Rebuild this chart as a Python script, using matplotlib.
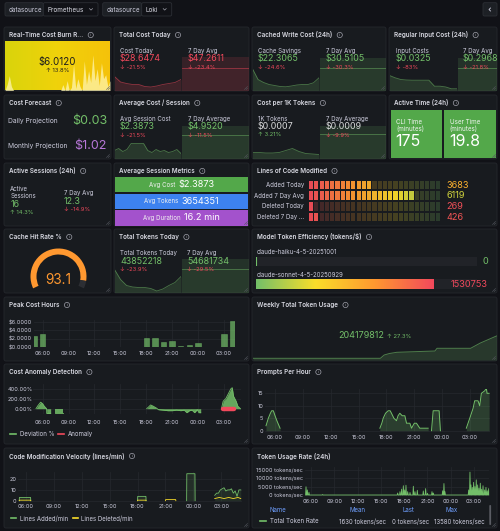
import numpy as np
import matplotlib
matplotlib.use('Agg')
import matplotlib.pyplot as plt
from matplotlib.patches import Rectangle, FancyBboxPatch, Wedge, Circle
from matplotlib.colors import LinearSegmentedColormap

plt.rcParams['font.family'] = ['Inter', 'DejaVu Sans']
nan = np.nan

# ---------------------------------------------------------------- data
burn_value, burn_change = '$6.0120', '↑ 13.8%'
burn_spark = [0, 6, 15, 4, 0, 0, 0, 0, 0, 0, 0, 0, 0, 0, 0, 0, 0, 0, 0, 0,
              0, 0, 0, 0, 0, 0, 0, 6, 0, 10, 0, 3, 27, 2, 12, 4, 0, 30, 6, 20,
              8, 36, 10, 22, 5, 28, 12, 16, 4, 10]

cost_labels = ['Cost Today', '7 Day Avg']
cost_values = ['$28.6474', '$47.2611']
cost_changes = ['↓ -21.5%', '↓ -23.4%']
cost_spark = [14, 8.5, 7, 6, 6, 4, 3.5, 4.5, 6, 7, 8, 11]
cost_avg7 = [34, 23]

cache_labels = ['Cache Savings', '7 Day Avg']
cache_values = ['$22.3065', '$30.5105']
cache_changes = ['↓ -24.6%', '↓ -30.3%']
cache_spark = [21.7, 11, 8, 6, 5, 4, 3.7, 4.5, 5.5, 6, 6, 7.7, 12.7]
cache_avg7 = [32.7, 22.7]

input_labels = ['Input Costs', '7 Day Avg']
input_values = ['$0.0325', '$0.2968']
input_changes = ['↓ -83%', '↓ -21.8%']
input_spark = [15, 12.7, 11, 10.5, 10.3, 10.3, 10.3, 10.3, 4.3, 4.3, 3.5, 1.7, 1.7]
input_avg7 = [32.7, 22.7]

forecast_labels = ['Daily Projection', 'Monthly Projection']
forecast_values = ['$0.03', '$1.02']

session_labels = ['Avg Session Cost', '7 Day Average']
session_values = ['$2.3873', '$4.9520']
session_changes = ['↓ -21.5%', '↓ -11.5%']
session_spark = [8, 10, 7, 9, 15, 15, 15, 15, 8, 6, 9, 7, 8, 6, 7, 9, 5]
session_avg7 = [33, 24]

per1k_labels = ['1K Tokens', '7 Day Average']
per1k_values = ['$0.0007', '$0.0009']
per1k_changes = ['↑ 3.21%', '↓ -9.9%']
per1k_spark = [6, 6, 5.5, 5.5, 6, 8, 10, 7, 5, 4.5, 4]
per1k_avg7 = [33, 24.7]

active_time_labels = ['CLI Time\n(minutes)', 'User Time\n(minutes)']
active_time_values = ['175', '19.8']

sessions_labels = ['Active\nSessions', '7 Day Avg']
sessions_values = ['16', '12.3']
sessions_changes = ['↑ 14.3%', '↓ -14.9%']

metric_labels = ['Avg Cost', 'Avg Tokens', 'Avg Duration']
metric_values = ['$2.3873', '3654351', '16.2 min']

loc_labels = ['Added Today', 'Added 7 Day Avg', 'Deleted Today', 'Deleted 7 Day ...']
loc_values = [3683, 6119, 269, 426]
loc_max = 8000

cache_hit = 93.1

tokens_labels = ['Total Tokens Today', '7 Day Avg']
tokens_values = ['43852218', '54681734']
tokens_changes = ['↓ -23.9%', '↓ -29.5%']
tokens_spark = [23, 13, 7, 5.5, 5, 5, 4, 1.5, 3.5, 7, 10, 16]
tokens_avg7 = [33, 23]

model_names = ['claude-haiku-4-5-20251001', 'claude-sonnet-4-5-20250929']
model_eff = [0, 1530753]
model_max = 1906000

peak_hours = [5, 6, 8, 18, 19, 20, 21, 22, 23, 24, 27, 28]
peak_cost = [2.6, 3.25, 0.1, 2.1, 2.25, 1.3, 1.5, 0.25, 0.5, 1.0, 3.25, 6.3]

weekly_total, weekly_change = '204179812', '↑ 27.3%'
weekly_day = [0, 3.64, 3.75, 3.9, 4.11, 4.6, 5.2, 5.26, 6.22, 6.5, 6.96]
weekly_spark = [1.7, 1.7, 5, 6.5, 7.7, 8.3, 9, 11.7, 11.7, 17, 24]

dev_t = [5.23, 5.45, 5.77, 6.0, 6.19, 6.46, 6.47, 6.93, nan, 7.43, 8.39, nan,
         18.05, 18.3, 18.5, 18.8, 19.2, 19.4, 20.0, 20.5, 21.0, 21.5, 22.0, 22.4,
         22.7, 23.0, 23.3, 23.6, 23.9, 24.1, 24.3, nan,
         26.7, 26.9, 27.2, 27.5, 27.8, 27.95, 28.1, 28.4, 28.6, 28.9]
dev_v = [0, 60, 130, 100, 50, 0, -95, -95, nan, -95, -95, nan,
         0, 40, 75, 50, 10, -20, -30, -40, -40, -30, -40, -30,
         -80, -40, -30, -80, -20, -80, -80, nan,
         0, 150, 200, 300, 400, 420, 250, 150, 50, 0]
anom_t = [26.9, 27.3, 27.7, 28.15]
anom_v = [-3, -3, -3, -3]

pph_t = [5.03, 5.28, 5.5, 5.64, 5.82, 6.0, 6.2, 6.54, nan,
         17.29, 17.5, 17.65, 17.9, 18.19, 18.4, 18.54, 18.8, 19.08, 19.25, 19.44,
         19.7, 19.98, 20.16, 20.52, 20.7, 21.0, 21.23, 21.59, 21.77, 22.49, nan,
         22.85, 23.03, 23.67, 23.81, nan,
         26.6, 26.97, 27.33, 27.5, 27.86, 28.04, 28.22, 28.58, 28.76, 28.83, 29.05]
pph_v = [2, 5, 7, 8, 8, 6, 4, 1, nan,
         1, 3, 5, 7, 8, 8, 7, 5, 4, 6, 7,
         6, 6, 3, 3, 1, 3, 3, 1, 1, 1, nan,
         0, 8, 8, 0, nan,
         1, 5, 9, 12, 12, 10, 15, 16, 17, 15, 15]

added_t = [5.28, 5.3, 6.5, 6.52, nan, 18.0, 18.02, 18.9, 18.92, nan,
           23.28, 23.3, 24.17, 24.19, nan,
           26.3, 26.5, 26.7, 26.9, 27.1, 27.3, 27.5, 27.7, 27.9, 28.1, 28.3, 28.5, 28.7, 28.9, 29.1]
added_v = [0, 3, 3, 0, nan, 0, 4, 4, 0, nan,
           0, 25, 25, 0, nan,
           5, 7, 7, 10, 11, 12, 9, 10, 10, 11, 7, 9, 4, 10, 10]
deleted_t = [5.28, 5.3, 6.5, 6.52, nan, 18.0, 18.02, 18.9, 18.92, nan,
             21.0, 21.02, 22.1, 22.12, nan,
             26.3, 26.8, 27.3, 27.8, 28.3, 28.8, 29.1]
deleted_v = [0, 0.5, 0.5, 0, nan, 0, 0.5, 0.5, 0, nan,
             0, 1, 1, 0, nan,
             2, 3, 2, 3, 2, 3, 2]

rate_t = [5.36, 5.53, 5.74, 7.5, 17.16, 17.46, 17.67, 17.89, 18.06, 18.23, 18.45,
          18.75, 19.18, 19.39, 19.69, 20.46, 20.76, 21.0, 21.58, 21.75, 22.95,
          23.12, 23.25, 26.3, 26.47, 26.6, 26.77, 26.94, 27.11, 27.28, 27.46,
          27.63, 27.8, 27.97, 28.15, 28.36, 28.53, 28.7, 28.88]
rate_v = [4900, 3000, 1600, 300, 1200, 2000, 3500, 5500, 3000, 5800, 2000,
          1500, 5200, 2000, 2800, 2400, 3800, 1000, 2000, 1200, 2500,
          6800, 2000, 3000, 13580, 6000, 4500, 7500, 5000, 9000, 6000,
          4000, 7000, 3500, 5500, 3000, 4500, 2500, 3800]
rate_legend = ['Total Token Rate', '1630 tokens/sec', '0 tokens/sec', '13580 tokens/sec']

HOURS = [6, 9, 12, 15, 18, 21, 24, 27]
HOUR_LABELS = ['06:00', '09:00', '12:00', '15:00', '18:00', '21:00', '00:00', '03:00']

# ---------------------------------------------------------------- style
W, H = 500, 531
BG = '#111217'; PANEL = '#181b1f'; BORDER = '#25282d'; TXT = '#ccccdc'
GRID = '#26292e'
GREEN = '#73bf69'; RED = '#f2495c'; PURPLE = '#b877d9'; ORANGE = '#ff9830'
YELLOW = '#fade2a'; WHITE = '#d8d9da'
TITLE_FS = 4.5; LABEL_FS = 4.4; VALUE_FS = 6.4; CHANGE_FS = 4.2; TICK_FS = 4.0

fig = plt.figure(figsize=(5, 5.31), dpi=100, facecolor=BG)
bg = fig.add_axes([0, 0, 1, 1]); bg.set_xlim(0, W); bg.set_ylim(H, 0); bg.axis('off')
bg.set_zorder(-10)
fg = fig.add_axes([0, 0, 1, 1]); fg.set_xlim(0, W); fg.set_ylim(H, 0); fg.axis('off')
fg.patch.set_alpha(0); fg.set_zorder(10)


def pax(x0, y0, x1, y1):
    a = fig.add_axes([x0 / W, 1 - y1 / H, (x1 - x0) / W, (y1 - y0) / H])
    a.set_facecolor('none')
    return a


def txt(x, y, s, size, color=TXT, ha='left', va='center', weight='normal', **kw):
    return fg.text(x, y, s, fontsize=size, color=color, ha=ha, va=va,
                   fontweight=weight, **kw)


titles = []


def panel(x0, y0, x1, y1, title, icon=True):
    bg.add_patch(FancyBboxPatch((x0, y0), x1 - x0, y1 - y0,
                                boxstyle='round,pad=0,rounding_size=2',
                                fc=PANEL, ec=BORDER, lw=0.6))
    t = txt(x0 + 5, y0 + 8, title, TITLE_FS, color='#d8d9e2', weight='semibold')
    if icon:
        titles.append(t)
    # resize handle
    fg.plot([x1 - 4.5, x1 - 1.5], [y1 - 1.5, y1 - 4.5], color='#55585f', lw=0.4)
    fg.plot([x1 - 2.8, x1 - 1.5], [y1 - 1.5, y1 - 2.8], color='#55585f', lw=0.4)


def split(t, v):
    t = np.asarray(t, float); v = np.asarray(v, float)
    segs, cur = [], []
    for a, b in zip(t, v):
        if np.isnan(b):
            if cur:
                segs.append(cur); cur = []
        else:
            cur.append((a, b))
    if cur:
        segs.append(cur)
    return [(np.array([p[0] for p in s]), np.array([p[1] for p in s])) for s in segs]


def spark(x0, x1, ybot, vals, color, h=36):
    a = pax(x0, ybot - h, x1, ybot)
    xs = np.arange(len(vals))
    a.fill_between(xs, vals, 0, color=color, alpha=0.18, lw=0)
    a.plot(xs, vals, color=color, alpha=0.55, lw=0.6)
    a.set_xlim(0, len(vals) - 1); a.set_ylim(0, h); a.axis('off')


def spark7(x0, x1, ybot, pair, color, h=36):
    a = pax(x0, ybot - h, x1, ybot)
    a.fill_between([0, 1], [pair[0]] * 2, 0, color=color, alpha=0.14, lw=0)
    a.fill_between([0, 1], [pair[1]] * 2, 0, color=color, alpha=0.06, lw=0)
    a.plot([0, 1], [pair[1]] * 2, color=color, alpha=0.5, lw=0.6)
    a.set_xlim(0, 1); a.set_ylim(0, h); a.axis('off')


def stat_col(x, ytop, label, value, change, vcol, ccol):
    txt(x, ytop + 23.7, label, LABEL_FS)
    txt(x, ytop + 32, value, VALUE_FS, color=vcol)
    txt(x, ytop + 40, change, CHANGE_FS, color=ccol)


def ts_ax(rect, xlim, ylim, yticks, ylabels, xpad, ypad):
    a = pax(*rect)
    a.set_xlim(*xlim); a.set_ylim(*ylim)
    a.set_xticks(HOURS, HOUR_LABELS)
    a.set_yticks(yticks, ylabels)
    a.tick_params(axis='x', length=0, labelsize=TICK_FS, labelcolor=TXT, pad=xpad)
    a.tick_params(axis='y', length=0, labelsize=TICK_FS, labelcolor=TXT, pad=ypad)
    a.grid(True, color=GRID, lw=0.5)
    a.set_axisbelow(True)
    for s in a.spines.values():
        s.set_visible(False)
    return a


def chg_color(c):
    return GREEN if c.startswith('↑') else RED


# ---------------------------------------------------------------- top bar
for (x0, x1, xs, name) in [(5, 98, 43.3, 'Prometheus'), (102.7, 171.7, 141.7, 'Loki')]:
    bg.add_patch(FancyBboxPatch((x0, 2.7), xs - x0, 13.3, boxstyle='round,pad=0,rounding_size=1.5',
                                fc='#1d2025', ec='#2c2f35', lw=0.6))
    bg.add_patch(FancyBboxPatch((xs, 2.7), x1 - xs, 13.3, boxstyle='round,pad=0,rounding_size=1.5',
                                fc=BG, ec='#2c2f35', lw=0.6))
    txt(x0 + 4, 9.5, 'datasource', 4.5)
    txt(xs + 4, 9.5, name, 4.6, color='#d8d9e2')
    fg.plot([x1 - 8.5, x1 - 7, x1 - 5.5], [8.6, 10.1, 8.6], color='#9fa0aa', lw=0.5)
bg.add_patch(FancyBboxPatch((483, 2.7), 14, 13.3, boxstyle='round,pad=0,rounding_size=1.5',
                            fc='#1d2025', ec='#2c2f35', lw=0.6))
fg.plot([490.5, 489, 490.5], [8, 9.5, 11], color='#ccccdc', lw=0.6)

# ---------------------------------------------------------------- row 1
panel(4, 27, 111, 91, 'Real-Time Cost Burn R...')
ya = pax(5, 41, 110, 90.5)
grad = np.linspace(0, 1, 200)[None, :]
ya.imshow(grad, aspect='auto', extent=(0, 1, 0, 1),
          cmap=LinearSegmentedColormap.from_list('y', ['#d9d40c', '#f0d20a', '#f5c20a']))
bx = np.linspace(0, 1, len(burn_spark))
ya.fill_between(bx, np.array(burn_spark) / 50.0, 0, color='#fff5b0', alpha=0.75, lw=0)
ya.set_xlim(0, 1); ya.set_ylim(0, 1); ya.axis('off')
txt(57.5, 61.5, burn_value, 7.0, color='#1d1d1d', ha='center')
txt(57.5, 71, burn_change, 4.2, color='#1d1d1d', ha='center')

panel(114, 27, 249, 91, 'Total Cost Today')
spark(114.5, 181, 90.5, cost_spark, RED)
spark7(182, 248.5, 90.5, cost_avg7, RED)
for i, x in enumerate([120, 188]):
    stat_col(x, 27, cost_labels[i], cost_values[i], cost_changes[i], RED, chg_color(cost_changes[i]))

panel(252, 27, 386, 91, 'Cached Write Cost (24h)')
spark(252.5, 319, 90.5, cache_spark, GREEN)
spark7(320, 385.5, 90.5, cache_avg7, GREEN)
for i, x in enumerate([258, 326]):
    stat_col(x, 27, cache_labels[i], cache_values[i], cache_changes[i], GREEN, chg_color(cache_changes[i]))

panel(389, 27, 497, 91, 'Regular Input Cost (24h)')
spark(389.5, 457, 90.5, input_spark, GREEN)
spark7(458, 496.5, 90.5, input_avg7, GREEN)
for i, x in enumerate([395.5, 463]):
    stat_col(x, 27, input_labels[i], input_values[i], input_changes[i], GREEN, chg_color(input_changes[i]))

# ---------------------------------------------------------------- row 2
panel(4, 95, 111, 159, 'Cost Forecast')
txt(8.5, 121, forecast_labels[0], 4.8)
txt(107, 121, forecast_values[0], 9.0, color=GREEN, ha='right')
txt(8.5, 146, forecast_labels[1], 4.8)
txt(107, 146, forecast_values[1], 9.0, color=PURPLE, ha='right')

panel(114, 95, 249, 159, 'Average Cost / Session')
spark(114.5, 181, 158.5, session_spark, GREEN)
spark7(182, 248.5, 158.5, session_avg7, GREEN)
for i, x in enumerate([120, 187.5]):
    stat_col(x, 95, session_labels[i], session_values[i], session_changes[i], GREEN, chg_color(session_changes[i]))

panel(252, 95, 386, 159, 'Cost per 1K Tokens')
spark(252.5, 319, 158.5, per1k_spark, GREEN)
spark7(320, 385.5, 158.5, per1k_avg7, GREEN)
for i, x in enumerate([258, 325.5]):
    stat_col(x, 95, per1k_labels[i], per1k_values[i], per1k_changes[i], WHITE, chg_color(per1k_changes[i]))

panel(389, 95, 497, 159, 'Active Time (24h)')
for i, (x0, x1) in enumerate([(390.5, 442), (444, 496)]):
    bg.add_patch(Rectangle((x0, 109.5), x1 - x0, 48.5, fc='#53a84a', ec='none'))
    txt(x0 + 5.5, 125.5, active_time_labels[i], 4.5, color='#eef3ee', linespacing=1.05)
    txt(x0 + 5, 141.5, active_time_values[i], 11.5, color='white')

# ---------------------------------------------------------------- row 3
panel(4, 163, 111, 226, 'Active Sessions (24h)')
txt(10.3, 192.7, sessions_labels[0], LABEL_FS, linespacing=1.1)
txt(10.3, 204.3, sessions_values[0], VALUE_FS, color=GREEN)
txt(10.3, 212.7, sessions_changes[0], CHANGE_FS, color=chg_color(sessions_changes[0]))
txt(63.7, 193, sessions_labels[1], LABEL_FS)
txt(63.7, 201.3, sessions_values[1], VALUE_FS, color=GREEN)
txt(63.7, 209.7, sessions_changes[1], CHANGE_FS, color=chg_color(sessions_changes[1]))

panel(114, 163, 249, 226, 'Average Session Metrics')
metric_colors = ['#53a84a', '#3d82ef', '#a352cc']
metric_rows = [(177.3, 192), (193.7, 208.7), (210.3, 225.5)]
metric_texts = []
for i, (y0, y1) in enumerate(metric_rows):
    bg.add_patch(Rectangle((115, y0), 133, y1 - y0, fc=metric_colors[i], ec='none'))
    a = txt(0, (y0 + y1) / 2, metric_labels[i], 4.4, color='#f0f0f0')
    b = txt(0, (y0 + y1) / 2, metric_values[i], 6.6, color='white')
    metric_texts.append((a, b))

panel(252, 163, 497, 226, 'Lines of Code Modified')
loc_cmap = LinearSegmentedColormap.from_list('rdylgn', [RED, ORANGE, YELLOW, GREEN])
ncell = 25
cell_x0, cell_x1 = 309, 441
pitch = (cell_x1 - cell_x0) / ncell
for r, yc in enumerate([185, 195.7, 206.3, 217]):
    txt(304, yc, loc_labels[r], 4.4, ha='right')
    lit = int(np.ceil(loc_values[r] / loc_max * ncell))
    for c in range(ncell):
        col = loc_cmap((c + 0.5) / ncell)
        bg.add_patch(Rectangle((cell_x0 + c * pitch, yc - 4.3), pitch - 1.1, 8.6,
                               fc=col, alpha=0.95 if c < lit else 0.2, ec='none'))
    txt(446.5, yc, str(loc_values[r]), 6.6, color=loc_cmap(loc_values[r] / loc_max))

# ---------------------------------------------------------------- row 4
panel(4, 229, 111, 293, 'Cache Hit Rate %')
gc, gr, gw = (58.5, 276.5), 28, 6
gend = -205 + cache_hit / 100 * 230
fg.add_patch(Wedge(gc, gr, -205, gend, width=gw, fc=ORANGE, ec='none'))
fg.add_patch(Wedge(gc, gr, gend, 25, width=gw, fc='#2c2e33', ec='none'))
txt(58.5, 280.5, f'{cache_hit:.1f}', 9.8, color=ORANGE, ha='center')

panel(114, 229, 249, 293, 'Total Tokens Today')
spark(114.5, 181, 292.5, tokens_spark, GREEN)
spark7(182, 248.5, 292.5, tokens_avg7, GREEN)
for i, x in enumerate([120.3, 187.3]):
    stat_col(x, 229, tokens_labels[i], tokens_values[i], tokens_changes[i], GREEN, chg_color(tokens_changes[i]))

panel(252, 229, 497, 293, 'Model Token Efficiency (tokens/$)')
eff_cmap = LinearSegmentedColormap.from_list('grylrd', [GREEN, YELLOW, ORANGE, RED])
for i, (ly, by0, by1) in enumerate([(252.3, 256.7, 266), (275.3, 279.3, 289.3)]):
    txt(256.5, ly, model_names[i], 4.4)
    bg.add_patch(Rectangle((256, by0), 220.7, by1 - by0, fc='#212328', ec='none'))
    frac = model_eff[i] / model_max
    ba = pax(256, by0, 476.7, by1)
    ba.set_xlim(0, 1); ba.set_ylim(0, 1); ba.axis('off')
    if frac > 0:
        ba.imshow(np.linspace(0, 1, 256)[None, :], aspect='auto', extent=(0, frac, 0, 1),
                  cmap=eff_cmap)
    else:
        ba.plot([0.002, 0.002], [0, 1], color=GREEN, lw=0.8)
    vcol = eff_cmap(1.0) if frac > 0 else GREEN
    txt(488, (by0 + by1) / 2, str(model_eff[i]), 6.6, color=vcol, ha='right')

# ---------------------------------------------------------------- row 5
panel(4, 297, 249, 361, 'Peak Cost Hours')
pa = ts_ax((34.3, 320, 235.3, 347), (5.035, 28.32), (0, 6.5), [0, 2, 4, 6],
           ['$0.0000', '$2.0000', '$4.0000', '$6.0000'], 2.9, 1.6)
pa.bar(peak_hours, peak_cost, width=0.62, color=GREEN, alpha=0.7, edgecolor=GREEN, lw=0.4)

panel(252, 297, 497, 361, 'Weekly Total Token Usage')
wa = pax(253, 330, 496.5, 360)
wa.fill_between(weekly_day, weekly_spark, 0, color=GREEN, alpha=0.18, lw=0)
wa.plot(weekly_day, weekly_spark, color=GREEN, alpha=0.6, lw=0.7)
wa.set_xlim(0, 6.96); wa.set_ylim(0, 30); wa.axis('off')
wt = txt(0, 336, weekly_total, 6.5, color=GREEN)
wc = txt(0, 336, weekly_change, 4.2, color=GREEN)

# ---------------------------------------------------------------- row 6
panel(4, 364, 249, 444, 'Cost Anomaly Detection')
aa = ts_ax((33.3, 384, 240.7, 414), (4.92, 28.93), (-106, 494), [0, 200, 400],
           ['0.00%', '200.00%', '400.00%'], 4.5, 0.6)
for t, v in split(dev_t, dev_v):
    aa.fill_between(t, v, 0, color=GREEN, alpha=0.85, lw=0)
    aa.plot(t, v, color=GREEN, lw=0.6)
aa.plot(anom_t, anom_v, color=RED, lw=3.2, solid_capstyle='round')
fg.plot([10, 15.5], [434, 434], color=GREEN, lw=1.2)
txt(20, 434, 'Deviation %', 4.4)
fg.plot([58.3, 63.8], [434, 434], color=RED, lw=1.2)
txt(67.7, 434, 'Anomaly', 4.4)

panel(252, 364, 497, 444, 'Prompts Per Hour')
qa = ts_ax((265, 389, 490, 431.5), (4.92, 29.15), (-0.32, 16.73), [0, 5, 10, 15],
           ['0', '5', '10', '15'], 2.7, 1.2)
for t, v in split(pph_t, pph_v):
    qa.fill_between(t, v, 0, color=GREEN, alpha=0.22, lw=0)
    qa.plot(t, v, color=GREEN, lw=0.7)

# ---------------------------------------------------------------- row 7
panel(4, 448, 249, 528, 'Code Modification Velocity (lines/min)')
ca = ts_ax((18.3, 472, 241.7, 501.5), (5.18, 29.2), (-0.74, 26.6), [0, 10, 20],
           ['0', '10', '20'], 1.6, 1.2)
for t, v in split(added_t, added_v):
    ca.fill_between(t, v, 0, color=GREEN, alpha=0.12, lw=0)
    ca.plot(t, v, color=GREEN, lw=0.6)
for t, v in split(deleted_t, deleted_v):
    ca.plot(t, v, color=YELLOW, lw=0.6)
fg.plot([10.7, 16], [518.3, 518.3], color=GREEN, lw=1.2)
txt(20, 518.3, 'Lines Added/min', 4.4)
fg.plot([72.7, 78], [518.3, 518.3], color=YELLOW, lw=1.2)
txt(81, 518.3, 'Lines Deleted/min', 4.4)

panel(252, 448, 497, 528, 'Token Usage Rate (24h)', icon=False)
ra = ts_ax((305, 467, 489.3, 496), (5.23, 28.96), (-593, 16601), [0, 5000, 10000, 15000],
           ['0 tokens/sec', '5000 tokens/sec', '10000 tokens/sec', '15000 tokens/sec'], 1.9, 1.7)
rx, ry = [], []
for t, v in zip(rate_t, rate_v):
    rx += [t - 0.06, t, t + 0.06]; ry += [0, v, 0]
ra.fill_between(rx, ry, 0, color=GREEN, alpha=0.25, lw=0)
ra.plot(rx, ry, color=GREEN, lw=0.6)
for s, x in zip(['Name', 'Mean', 'Last', 'Max'], [270, 350, 402.5, 446]):
    txt(x, 510, s, 4.4, color='#6e9fff')
fg.plot([260, 265.7], [521.3, 521.3], color=GREEN, lw=1.2)
txt(270, 521.3, rate_legend[0], 4.4)
for s, x in zip(rate_legend[1:], [386, 428.7, 484.3]):
    txt(x, 521.3, s, 4.4, ha='right')
bg.add_patch(FancyBboxPatch((489.3, 505), 1.8, 20, boxstyle='round,pad=0,rounding_size=0.9',
                            fc='#5a5c63', ec='none'))

# ---------------------------------------------------------------- layout-dependent bits
fig.canvas.draw()
r = fig.canvas.get_renderer()
for t in titles:
    bb = t.get_window_extent(r)
    cx = bb.x1 + 7.5
    cy = t.get_position()[1]
    fg.add_patch(Circle((cx, cy), 2.6, fill=False, ec='#9fa0aa', lw=0.5))
    txt(cx, cy + 0.1, 'i', 3.0, color='#9fa0aa', ha='center')

for (a, b) in metric_texts:
    wa_ = a.get_window_extent(r).width
    wb_ = b.get_window_extent(r).width
    total = wa_ + 3 + wb_
    x0 = 181.5 - total / 2
    a.set_x(x0); b.set_x(x0 + wa_ + 3)

w1 = wt.get_window_extent(r).width
w2 = wc.get_window_extent(r).width
x0 = 374.5 - (w1 + 3 + w2) / 2
wt.set_x(x0); wc.set_x(x0 + w1 + 3)

fig.savefig('out.png', dpi=100, facecolor=BG)
